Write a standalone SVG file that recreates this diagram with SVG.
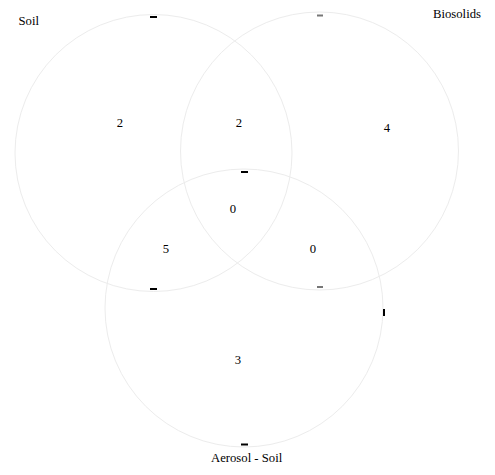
<svg xmlns="http://www.w3.org/2000/svg" width="495" height="475" viewBox="0 0 495 475" font-family="'Liberation Serif', 'Times New Roman', serif">
<style>
.c{fill:none;stroke:#ececec;stroke-width:1}
text{font-family:'Liberation Serif','Times New Roman',serif;font-size:12.7px;fill:#000}
.n{text-anchor:middle}
.k{stroke:#000;stroke-width:2}
.g{stroke:#777;stroke-width:2}
</style>
<rect width="495" height="475" fill="#fff"/>
<g id="set-soil">
<circle class="c" cx="153.5" cy="153" r="138.5"/>
<line class="k" x1="150" y1="17" x2="157" y2="17"/>
<line class="k" x1="150" y1="289" x2="157" y2="289"/>
<text x="18.5" y="25">Soil</text>
</g>
<g id="set-biosolids">
<circle class="c" cx="319.5" cy="151" r="139"/>
<line class="g" x1="317" y1="15.5" x2="323" y2="15.5"/>
<line class="g" x1="317" y1="287" x2="323" y2="287"/>
<text x="433" y="18">Biosolids</text>
</g>
<g id="set-aerosol">
<circle class="c" cx="244" cy="308" r="139"/>
<line class="k" x1="241" y1="172" x2="248" y2="172"/>
<line class="k" x1="241" y1="444.5" x2="248" y2="444.5"/>
<line class="k" x1="384" y1="309" x2="384" y2="316"/>
<text x="211" y="462">Aerosol - Soil</text>
</g>
<g id="counts">
<text class="n" x="120" y="127">2</text>
<text class="n" x="239" y="127">2</text>
<text class="n" x="387" y="132">4</text>
<text class="n" x="233" y="213">0</text>
<text class="n" x="166" y="253">5</text>
<text class="n" x="313" y="253">0</text>
<text class="n" x="238" y="364">3</text>
</g>
<g id="connectors"></g>
</svg>
